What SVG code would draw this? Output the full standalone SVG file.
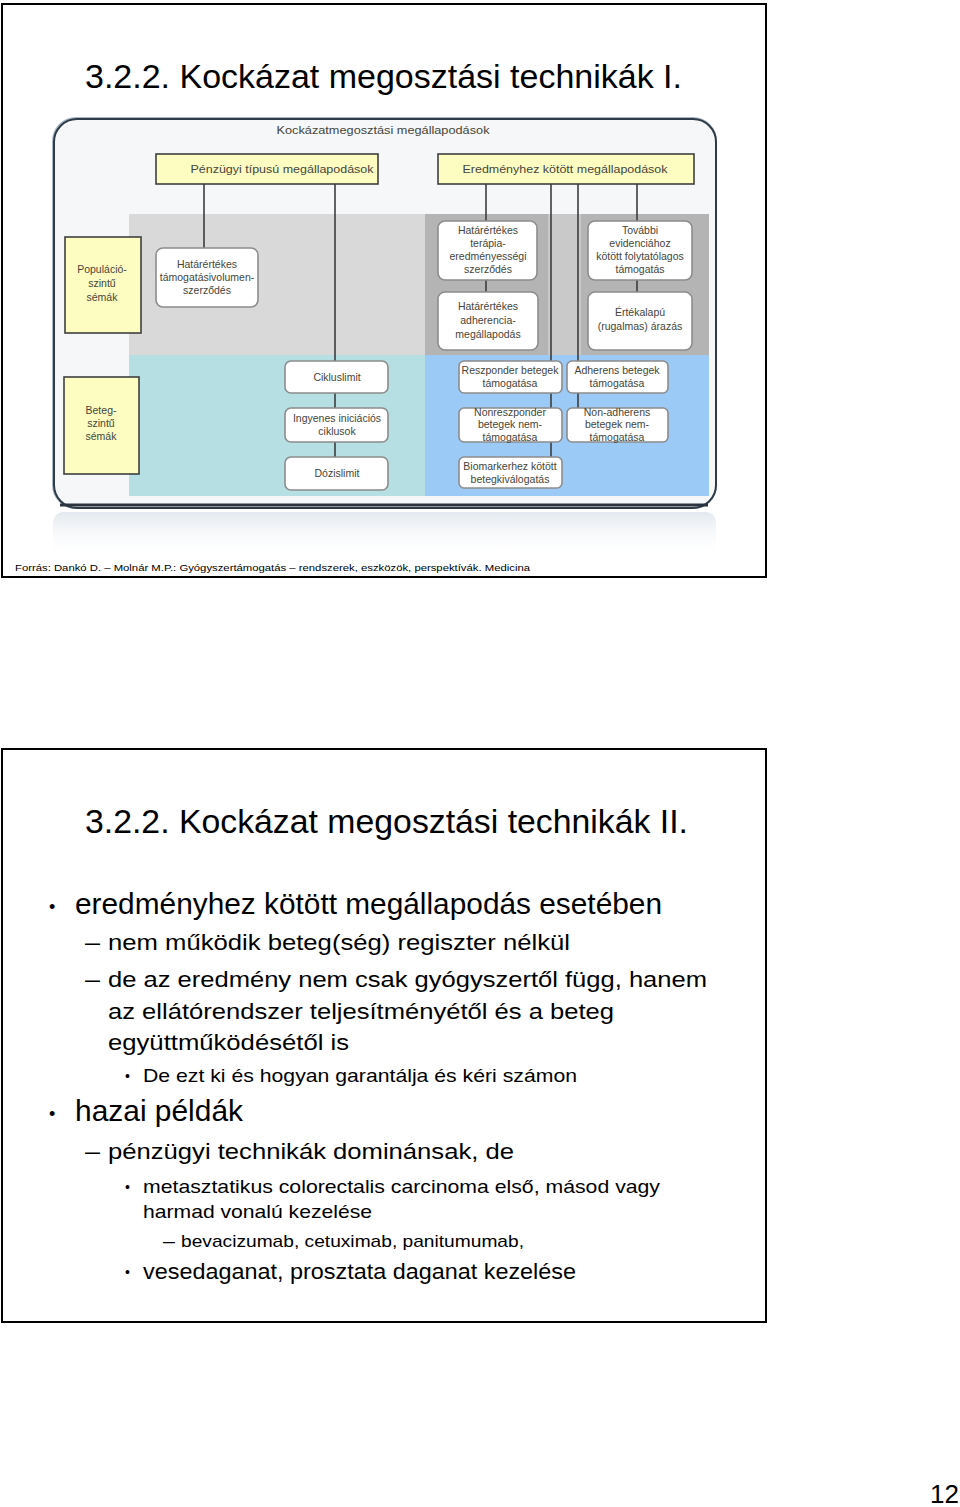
<svg xmlns="http://www.w3.org/2000/svg" width="960" height="1507" viewBox="0 0 960 1507">
<defs>
<style>
.t{font-family:"Liberation Sans",Arial,sans-serif;fill:#000}
.d{font-family:"Liberation Sans",Arial,sans-serif;fill:#45453a;font-size:10.5px;text-anchor:middle}
.yb{fill:#fdfdc2;stroke:#3f3f3f;stroke-width:1.6}
.wb{fill:#ffffff;stroke:#8c8c8c;stroke-width:1.6}
.ln{stroke:#3d3d3d;stroke-width:1.6;fill:none}
.slide{fill:#fff;stroke:#000;stroke-width:2}
</style>
<linearGradient id="refl" x1="0" y1="0" x2="0" y2="1">
<stop offset="0" stop-color="#dfe6ec" stop-opacity="0.9"/>
<stop offset="1" stop-color="#ffffff" stop-opacity="0"/>
</linearGradient>
</defs>
<rect width="960" height="1507" fill="#fff"/>

<!-- Slide 1 -->
<g id="slide1">
<rect class="slide" x="2" y="4" width="764" height="573"/>
<text class="t" x="85" y="88" font-size="34" textLength="597" lengthAdjust="spacingAndGlyphs">3.2.2. Kockázat megosztási technikák I.</text>
</g>

<g id="frame">
<rect x="53" y="512" width="663" height="45" rx="10" fill="url(#refl)"/>
<rect x="52" y="117" width="665" height="392" rx="24" fill="#a9b8c6"/>
<rect x="54" y="119" width="662" height="389" rx="23" fill="#f5f7f8" stroke="#2f3b47" stroke-width="2"/>
<path d="M60 505 H708" stroke="#2a3440" stroke-width="3" fill="none"/>
<text class="d" x="383" y="134" font-size="10.5" textLength="213" lengthAdjust="spacingAndGlyphs">Kockázatmegosztási megállapodások</text>
</g>

<g id="regions">
<rect x="129" y="214" width="296" height="141" fill="#d9d9d9"/>
<rect x="425" y="214" width="284" height="141" fill="#c9c9c9"/>
<rect x="425" y="214" width="123" height="141" fill="#b4b4b4"/>
<rect x="581" y="214" width="128" height="141" fill="#b4b4b4"/>
<rect x="129" y="355" width="296" height="141" fill="#b6dfe3"/>
<rect x="425" y="355" width="284" height="141" fill="#9ccaf6"/>
</g>

<g id="connectors">
<path class="ln" d="M204 184 V248"/>
<path class="ln" d="M335 184 V457"/>
<path class="ln" d="M486 184 V292"/>
<path class="ln" d="M637 184 V292"/>
<path class="ln" d="M551 184 V457"/>
<path class="ln" d="M578 184 V408"/>
</g>

<g id="n-penzugyi"><rect class="yb" x="156" y="154" width="222" height="30"/><text class="d" x="282" y="173" font-size="11" textLength="183" lengthAdjust="spacingAndGlyphs">Pénzügyi típusú megállapodások</text></g>
<g id="n-eredmeny"><rect class="yb" x="438" y="154" width="256" height="30"/><text class="d" x="565" y="173" font-size="11" textLength="205" lengthAdjust="spacingAndGlyphs">Eredményhez kötött megállapodások</text></g>
<g id="n-populacio"><rect class="yb" x="65" y="237" width="76" height="96"/><text class="d" x="102" y="273" font-size="11">Populáció-</text><text class="d" x="102" y="287" font-size="11">szintű</text><text class="d" x="102" y="301" font-size="11">sémák</text></g>
<g id="n-beteg"><rect class="yb" x="64" y="377" width="75" height="97"/><text class="d" x="101" y="414" font-size="11">Beteg-</text><text class="d" x="101" y="427" font-size="11">szintű</text><text class="d" x="101" y="440" font-size="11">sémák</text></g>

<g id="n-volumen"><rect class="wb" x="156" y="248" width="102" height="59" rx="7"/><text class="d" x="207" y="268">Határértékes</text><text class="d" x="207" y="281">támogatásivolumen-</text><text class="d" x="207" y="294">szerződés</text></g>
<g id="n-terapia"><rect class="wb" x="438" y="221" width="99" height="59" rx="7"/><text class="d" x="488" y="234">Határértékes</text><text class="d" x="488" y="247">terápia-</text><text class="d" x="488" y="260">eredményességi</text><text class="d" x="488" y="273">szerződés</text></g>
<g id="n-adherencia"><rect class="wb" x="438" y="292" width="100" height="58" rx="7"/><text class="d" x="488" y="310">Határértékes</text><text class="d" x="488" y="324">adherencia-</text><text class="d" x="488" y="338">megállapodás</text></g>
<g id="n-tovabbi"><rect class="wb" x="588" y="221" width="104" height="59" rx="7"/><text class="d" x="640" y="234">További</text><text class="d" x="640" y="247">evidenciához</text><text class="d" x="640" y="260">kötött folytatólagos</text><text class="d" x="640" y="273">támogatás</text></g>
<g id="n-ertekalapu"><rect class="wb" x="588" y="292" width="104" height="58" rx="7"/><text class="d" x="640" y="316">Értékalapú</text><text class="d" x="640" y="330">(rugalmas) árazás</text></g>

<g id="n-ciklus"><rect class="wb" x="285" y="361" width="103" height="32" rx="6"/><text class="d" x="337" y="381">Cikluslimit</text></g>
<g id="n-ingyenes"><rect class="wb" x="285" y="408" width="103" height="34" rx="6"/><text class="d" x="337" y="422">Ingyenes iniciációs</text><text class="d" x="337" y="435">ciklusok</text></g>
<g id="n-dozis"><rect class="wb" x="285" y="457" width="103" height="33" rx="6"/><text class="d" x="337" y="477">Dózislimit</text></g>

<g id="n-reszponder"><rect class="wb" x="459" y="361" width="103" height="32" rx="5"/><text class="d" x="510" y="374">Reszponder betegek</text><text class="d" x="510" y="387">támogatása</text></g>
<g id="n-adherens"><rect class="wb" x="567" y="361" width="101" height="32" rx="5"/><text class="d" x="617" y="374">Adherens betegek</text><text class="d" x="617" y="387">támogatása</text></g>
<g id="n-nonreszponder"><rect class="wb" x="459" y="408" width="103" height="34" rx="5"/><text class="d" x="510" y="416">Nonreszponder</text><text class="d" x="510" y="428">betegek nem-</text><text class="d" x="510" y="441">támogatása</text></g>
<g id="n-nonadherens"><rect class="wb" x="567" y="408" width="101" height="34" rx="5"/><text class="d" x="617" y="416">Non-adherens</text><text class="d" x="617" y="428">betegek nem-</text><text class="d" x="617" y="441">támogatása</text></g>
<g id="n-biomarker"><rect class="wb" x="459" y="457" width="103" height="31" rx="5"/><text class="d" x="510" y="470">Biomarkerhez kötött</text><text class="d" x="510" y="483">betegkiválogatás</text></g>

<text class="t" x="15" y="571" font-size="9" fill="#333" textLength="515" lengthAdjust="spacingAndGlyphs">Forrás: Dankó D. – Molnár M.P.: Gyógyszertámogatás – rendszerek, eszközök, perspektívák. Medicina</text>

<!-- Slide 2 -->
<g id="slide2">
<rect class="slide" x="2" y="749" width="764" height="573"/>
<text class="t" x="85" y="833" font-size="34" textLength="603" lengthAdjust="spacingAndGlyphs">3.2.2. Kockázat megosztási technikák II.</text>

<text class="t" x="49" y="913" font-size="18">•</text>
<text class="t" x="75" y="914" font-size="29" textLength="587" lengthAdjust="spacingAndGlyphs">eredményhez kötött megállapodás esetében</text>
<text class="t" x="85" y="950" font-size="22" textLength="15" lengthAdjust="spacingAndGlyphs">–</text>
<text class="t" x="108" y="950" font-size="22" textLength="462" lengthAdjust="spacingAndGlyphs">nem működik beteg(ség) regiszter nélkül</text>
<text class="t" x="85" y="987" font-size="22" textLength="15" lengthAdjust="spacingAndGlyphs">–</text>
<text class="t" x="108" y="987" font-size="22" textLength="599" lengthAdjust="spacingAndGlyphs">de az eredmény nem csak gyógyszertől függ, hanem</text>
<text class="t" x="108" y="1019" font-size="22" textLength="506" lengthAdjust="spacingAndGlyphs">az ellátórendszer teljesítményétől és a beteg</text>
<text class="t" x="108" y="1050" font-size="22" textLength="241" lengthAdjust="spacingAndGlyphs">együttműködésétől is</text>
<text class="t" x="125" y="1081" font-size="14">•</text>
<text class="t" x="143" y="1082" font-size="19" textLength="434" lengthAdjust="spacingAndGlyphs">De ezt ki és hogyan garantálja és kéri számon</text>
<text class="t" x="49" y="1120" font-size="18">•</text>
<text class="t" x="75" y="1121" font-size="29" textLength="168" lengthAdjust="spacingAndGlyphs">hazai példák</text>
<text class="t" x="85" y="1159" font-size="22" textLength="15" lengthAdjust="spacingAndGlyphs">–</text>
<text class="t" x="108" y="1159" font-size="22" textLength="406" lengthAdjust="spacingAndGlyphs">pénzügyi technikák dominánsak, de</text>
<text class="t" x="125" y="1192" font-size="14">•</text>
<text class="t" x="143" y="1193" font-size="19" textLength="517" lengthAdjust="spacingAndGlyphs">metasztatikus colorectalis carcinoma első, másod vagy</text>
<text class="t" x="143" y="1218" font-size="19" textLength="229" lengthAdjust="spacingAndGlyphs">harmad vonalú kezelése</text>
<text class="t" x="163" y="1247" font-size="17" textLength="12" lengthAdjust="spacingAndGlyphs">–</text>
<text class="t" x="181" y="1247" font-size="17" textLength="343" lengthAdjust="spacingAndGlyphs">bevacizumab, cetuximab, panitumumab,</text>
<text class="t" x="125" y="1277" font-size="14">•</text>
<text class="t" x="143" y="1279" font-size="22" textLength="433" lengthAdjust="spacingAndGlyphs">vesedaganat, prosztata daganat kezelése</text>
</g>

<text id="page" class="t" x="930" y="1503" font-size="26">12</text>
</svg>
